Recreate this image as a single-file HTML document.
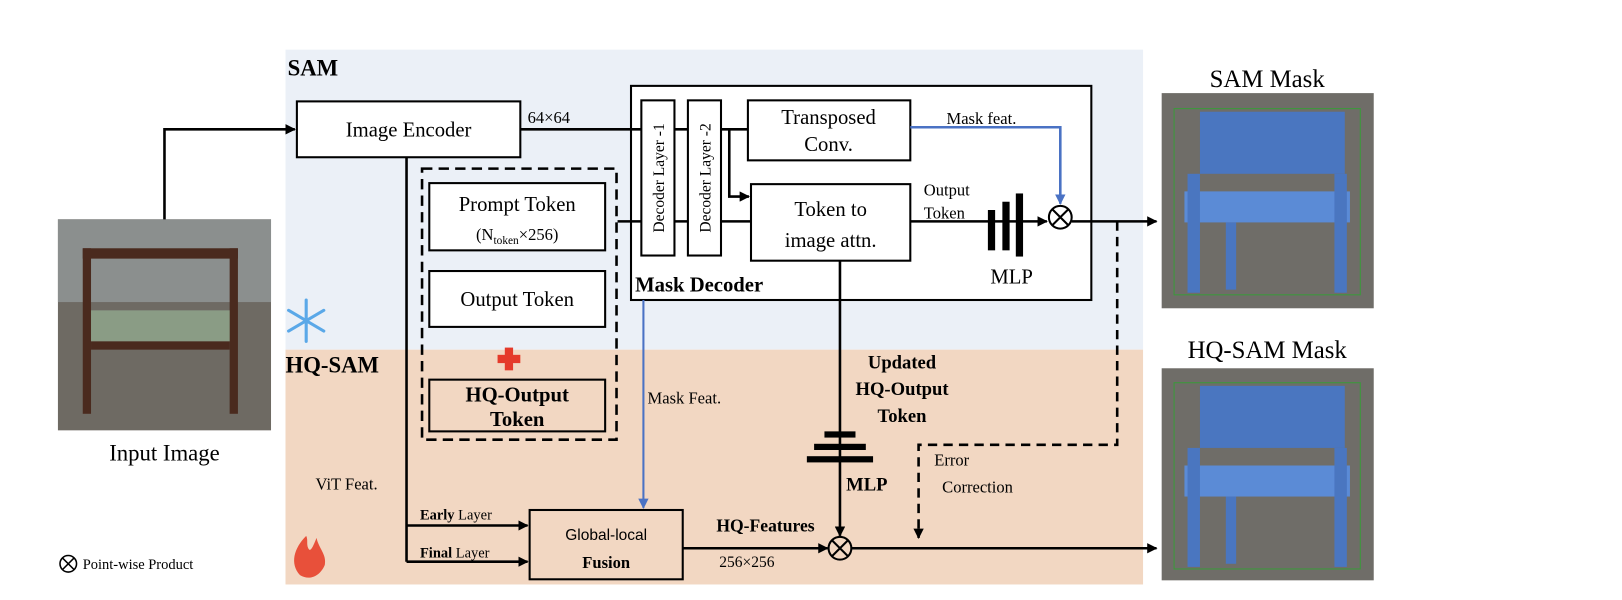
<!DOCTYPE html>
<html><head><meta charset="utf-8"><style>html,body{margin:0;padding:0;background:#fff}svg{display:block}text{font-family:"Liberation Serif",serif;fill:#000}</style></head>
<body>
<svg width="1622" height="600" viewBox="0 0 1568 580" xmlns="http://www.w3.org/2000/svg">
<defs>
<marker id="a" markerWidth="10" markerHeight="10" refX="9" refY="5" orient="auto" markerUnits="userSpaceOnUse"><path d="M0,0 L10,5 L0,10 z" fill="#000"/></marker>
<marker id="ab" markerWidth="10" markerHeight="10" refX="9" refY="5" orient="auto" markerUnits="userSpaceOnUse"><path d="M0,0 L10,5 L0,10 z" fill="#4a72c4"/></marker>
</defs>
<rect x="276" y="48" width="829" height="290" fill="#ebf0f7"/>
<rect x="276" y="338" width="829" height="227" fill="#f2d7c2"/>
<text x="278" y="73" font-size="22" font-weight="bold">SAM</text>
<text x="276" y="360" font-size="22" font-weight="bold">HQ-SAM</text>

<!-- input image -->
<rect x="56" y="212" width="206" height="204" fill="#6e6a63"/>
<rect x="56" y="212" width="206" height="80" fill="#8b8f8e"/>
<rect x="80" y="240" width="150" height="10" fill="#4a2a1e"/>
<rect x="80" y="240" width="8" height="160" fill="#4a2a1e"/>
<rect x="222" y="240" width="8" height="160" fill="#4a2a1e"/>
<rect x="88" y="300" width="134" height="30" fill="#8a9c85"/>
<rect x="88" y="330" width="134" height="8" fill="#4a2a1e"/>
<text x="159" y="445" font-size="22" text-anchor="middle">Input Image</text>
<path d="M159,212 V125 H285" stroke="#000" stroke-width="2.5" fill="none" marker-end="url(#a)"/>

<!-- SAM mask images -->
<g>
<rect x="1123" y="90" width="205" height="208" fill="#6f6d68"/>
<rect x="1135" y="105" width="180" height="180" fill="none" stroke="#3a9a3a" stroke-width="1"/>
<rect x="1160" y="108" width="140" height="60" fill="#4a76c0"/>
<rect x="1145" y="185" width="160" height="30" fill="#5b8bd6"/>
<rect x="1148" y="168" width="12" height="115" fill="#4a76c0"/>
<rect x="1290" y="168" width="12" height="115" fill="#4a76c0"/>
<rect x="1185" y="215" width="10" height="65" fill="#4a76c0"/>
</g>
<text x="1225" y="84" font-size="24" text-anchor="middle">SAM Mask</text>
<g>
<rect x="1123" y="356" width="205" height="205" fill="#6f6d68"/>
<rect x="1135" y="370" width="180" height="180" fill="none" stroke="#3a9a3a" stroke-width="1"/>
<rect x="1160" y="373" width="140" height="60" fill="#4a76c0"/>
<rect x="1145" y="450" width="160" height="30" fill="#5b8bd6"/>
<rect x="1148" y="433" width="12" height="115" fill="#4a76c0"/>
<rect x="1290" y="433" width="12" height="115" fill="#4a76c0"/>
<rect x="1185" y="480" width="10" height="65" fill="#4a76c0"/>
</g>
<text x="1225" y="346" font-size="24" text-anchor="middle">HQ-SAM Mask</text>

<!-- image encoder -->
<rect x="287" y="98" width="216" height="54" fill="#fff" stroke="#000" stroke-width="2"/>
<text x="395" y="132" font-size="20" text-anchor="middle">Image Encoder</text>
<text x="510" y="119" font-size="16">64×64</text>

<!-- mask decoder -->
<rect x="610" y="83" width="445" height="207" fill="#fff" stroke="#000" stroke-width="2"/>
<text x="614" y="282" font-size="20" font-weight="bold">Mask Decoder</text>
<path d="M503,125 H723" stroke="#000" stroke-width="2.5" fill="none"/>
<path d="M705,125 V190 H724" stroke="#000" stroke-width="2.5" fill="none" marker-end="url(#a)"/>
<path d="M597,214 H726" stroke="#000" stroke-width="2.5" fill="none"/>
<rect x="620" y="97" width="32" height="150" fill="#fff" stroke="#000" stroke-width="2"/>
<rect x="665" y="97" width="32" height="150" fill="#fff" stroke="#000" stroke-width="2"/>
<text transform="translate(642,172) rotate(-90)" font-size="15" text-anchor="middle">Decoder Layer -1</text>
<text transform="translate(687,172) rotate(-90)" font-size="15" text-anchor="middle">Decoder Layer -2</text>
<rect x="723" y="97" width="157" height="58" fill="#fff" stroke="#000" stroke-width="2"/>
<text x="801" y="120" font-size="20" text-anchor="middle">Transposed</text>
<text x="801" y="146" font-size="20" text-anchor="middle">Conv.</text>
<rect x="726" y="178" width="154" height="74" fill="#fff" stroke="#000" stroke-width="2"/>
<text x="803" y="209" font-size="20" text-anchor="middle">Token to</text>
<text x="803" y="239" font-size="20" text-anchor="middle">image attn.</text>
<text x="915" y="120" font-size="16">Mask feat.</text>
<path d="M880,123 H1025 V197" stroke="#4a72c4" stroke-width="2.5" fill="none" marker-end="url(#ab)"/>
<text x="893" y="189" font-size="16">Output</text>
<text x="893" y="211" font-size="16">Token</text>
<path d="M880,214 H1012" stroke="#000" stroke-width="2.5" fill="none" marker-end="url(#a)"/>
<rect x="955" y="203" width="7" height="39" fill="#000"/>
<rect x="969" y="195" width="7" height="47" fill="#000"/>
<rect x="982" y="187" width="7" height="61" fill="#000"/>
<text x="978" y="274" font-size="20" text-anchor="middle">MLP</text>
<circle cx="1025" cy="210" r="11" fill="#fff" stroke="#000" stroke-width="2"/>
<path d="M1017,202 L1033,218 M1033,202 L1017,218" stroke="#000" stroke-width="2"/>
<path d="M1036,214 H1118" stroke="#000" stroke-width="2.5" fill="none" marker-end="url(#a)"/>
<path d="M1080,214 V430 H888 V520" stroke="#000" stroke-width="2.5" fill="none" stroke-dasharray="9,6" marker-end="url(#a)"/>
<text x="920" y="450" font-size="16" text-anchor="middle">Error</text>
<text x="945" y="476" font-size="16" text-anchor="middle">Correction</text>

<!-- token dashed box -->
<rect x="408" y="163" width="188" height="262" fill="none" stroke="#000" stroke-width="2.5" stroke-dasharray="10,6"/>
<rect x="415" y="177" width="170" height="65" fill="#fff" stroke="#000" stroke-width="2"/>
<text x="500" y="204" font-size="20" text-anchor="middle">Prompt Token</text>
<text x="500" y="232" font-size="16" text-anchor="middle">(N<tspan font-size="11" dy="4">token</tspan><tspan dy="-4">×256)</tspan></text>
<rect x="415" y="262" width="170" height="54" fill="#fff" stroke="#000" stroke-width="2"/>
<text x="500" y="296" font-size="20" text-anchor="middle">Output Token</text>
<rect x="488" y="336" width="8" height="22" fill="#e53a2a"/>
<rect x="481" y="343" width="22" height="8" fill="#e53a2a"/>
<rect x="415" y="367" width="170" height="50" fill="none" stroke="#000" stroke-width="2"/>
<text x="500" y="388" font-size="20" font-weight="bold" text-anchor="middle">HQ-Output</text>
<text x="500" y="412" font-size="20" font-weight="bold" text-anchor="middle">Token</text>

<!-- vit feat -->
<path d="M393,152 V543" stroke="#000" stroke-width="2.5" fill="none"/>
<path d="M393,508 H510" stroke="#000" stroke-width="2.5" fill="none" marker-end="url(#a)"/>
<path d="M393,543 H510" stroke="#000" stroke-width="2.5" fill="none" marker-end="url(#a)"/>
<text x="305" y="473" font-size="16">ViT Feat.</text>
<text x="406" y="502" font-size="14"><tspan font-weight="bold">Early</tspan> Layer</text>
<text x="406" y="539" font-size="14"><tspan font-weight="bold">Final</tspan> Layer</text>
<rect x="512" y="493" width="148" height="67" fill="none" stroke="#000" stroke-width="2"/>
<text x="586" y="522" font-size="15" text-anchor="middle" style="font-family:'Liberation Sans',sans-serif">Global-local</text>
<text x="586" y="549" font-size="16" font-weight="bold" text-anchor="middle">Fusion</text>
<path d="M622,290 V491" stroke="#4a72c4" stroke-width="2" fill="none" marker-end="url(#ab)"/>
<text x="626" y="390" font-size="16">Mask Feat.</text>
<path d="M660,530 H800" stroke="#000" stroke-width="2.5" fill="none" marker-end="url(#a)"/>
<text x="740" y="514" font-size="17" font-weight="bold" text-anchor="middle">HQ-Features</text>
<text x="722" y="548" font-size="15" text-anchor="middle">256×256</text>
<path d="M812,252 V518" stroke="#000" stroke-width="2.5" fill="none" marker-end="url(#a)"/>
<rect x="797" y="417" width="30" height="6" fill="#000"/>
<rect x="787" y="429" width="50" height="6" fill="#000"/>
<rect x="780" y="441" width="64" height="6" fill="#000"/>
<text x="838" y="474" font-size="18" font-weight="bold" text-anchor="middle">MLP</text>
<text x="872" y="356" font-size="18" font-weight="bold" text-anchor="middle">Updated</text>
<text x="872" y="382" font-size="18" font-weight="bold" text-anchor="middle">HQ-Output</text>
<text x="872" y="408" font-size="18" font-weight="bold" text-anchor="middle">Token</text>
<circle cx="812" cy="530" r="11" fill="none" stroke="#000" stroke-width="2"/>
<path d="M804,522 L820,538 M820,522 L804,538" stroke="#000" stroke-width="2"/>
<path d="M823,530 H1118" stroke="#000" stroke-width="2.5" fill="none" marker-end="url(#a)"/>

<!-- snowflake -->
<g stroke="#5aa8e8" stroke-width="3" stroke-linecap="round">
<path d="M296,290 V330 M279,300 L313,320 M279,320 L313,300"/>
</g>
<!-- fire -->
<path d="M296,518 C284,530 280,545 290,556 C300,562 310,556 314,546 C316,536 308,530 306,520 C302,530 300,534 298,530 C296,526 298,522 296,518 z" fill="#e8503a"/>
<!-- legend -->
<circle cx="66" cy="545" r="8" fill="none" stroke="#000" stroke-width="1.5"/>
<path d="M60,539 L72,551 M72,539 L60,551" stroke="#000" stroke-width="1.5"/>
<text x="80" y="550" font-size="14">Point-wise Product</text>
</svg>
</body></html>
